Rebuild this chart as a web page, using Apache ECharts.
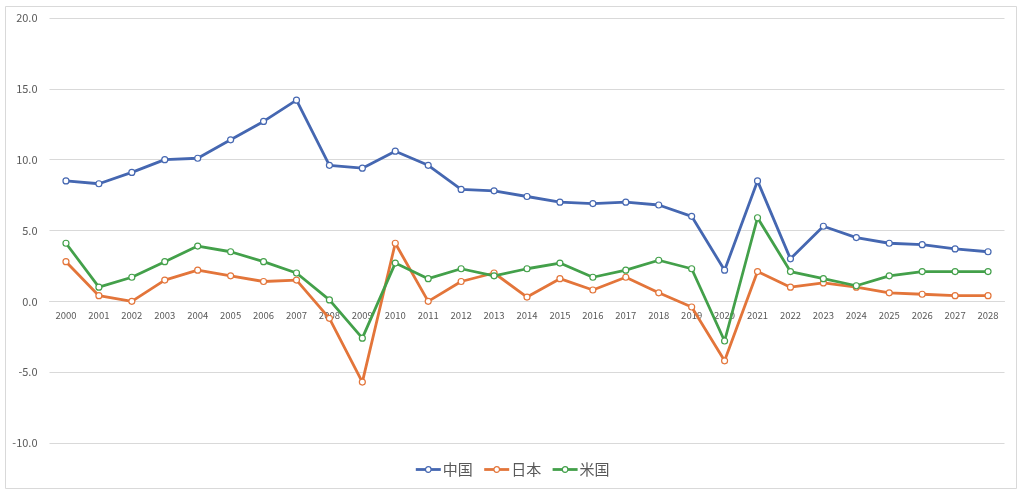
<!DOCTYPE html>
<html>
<head>
<meta charset="utf-8">
<script src="https://cdn.jsdelivr.net/npm/echarts@6/dist/echarts.min.js"></script>
<style>
html,body{margin:0;padding:0;background:#fff;}
#c{width:1024px;height:495px;}
</style>
</head>
<body>
<div id="c"></div>
<script>
var years = ['2000','2001','2002','2003','2004','2005','2006','2007','2008','2009','2010','2011','2012','2013','2014','2015','2016','2017','2018','2019','2020','2021','2022','2023','2024','2025','2026','2027','2028'];
var china = [8.5,8.3,9.1,10.0,10.1,11.4,12.7,14.2,9.6,9.4,10.6,9.6,7.9,7.8,7.4,7.0,6.9,7.0,6.8,6.0,2.2,8.5,3.0,5.3,4.5,4.1,4.0,3.7,3.5];
var japan = [2.8,0.4,0.0,1.5,2.2,1.8,1.4,1.5,-1.2,-5.7,4.1,0.0,1.4,2.0,0.3,1.6,0.8,1.7,0.6,-0.4,-4.2,2.1,1.0,1.3,1.0,0.6,0.5,0.4,0.4];
var usa = [4.1,1.0,1.7,2.8,3.9,3.5,2.8,2.0,0.1,-2.6,2.7,1.6,2.3,1.8,2.3,2.7,1.7,2.2,2.9,2.3,-2.8,5.9,2.1,1.6,1.1,1.8,2.1,2.1,2.1];
var seriesNames = ['中国','日本','米国'];
var colors = ['#4567b1','#e3753a','#43a04a'];
var yMin = -10, yMax = 20, yStep = 5;

var gridTop = 18, gridBottom = 52, H = 495;
var gridH = H - gridTop - gridBottom;
var zeroOffset = -gridH * (0 - yMin) / (yMax - yMin);

var chart = echarts.init(document.getElementById('c'));
function mk(name, data, color){
  return {
    name: name, type: 'line', data: data,
    symbol: 'circle', symbolSize: 6,
    lineStyle: {width: 2.8, color: color},
    itemStyle: {color: '#fff', borderColor: color, borderWidth: 1.2},
    emphasis: {disabled: true}
  };
}
chart.setOption({
  animation: false,
  textStyle: {fontFamily: 'Noto Sans CJK JP, Noto Sans, sans-serif'},
  graphic: [{
    type: 'rect', left: 5, top: 6, z: -1,
    shape: {width: 1011, height: 482},
    style: {fill: '#fff', stroke: '#d9d9d9', lineWidth: 1}
  }],
  grid: {left: 49.5, right: 19.5, top: gridTop, bottom: gridBottom},
  legend: {
    data: seriesNames.map(function(n,i){return {name:n, itemStyle:{color:'#fff', borderColor:colors[i], borderWidth:1.2}, lineStyle:{color:colors[i], width:2.8}};}),
    top: 457, left: 'center',
    itemWidth: 25, itemHeight: 7, itemGap: 10,
    textStyle: {fontSize: 15, color: '#595959', fontFamily: 'Noto Sans CJK JP', padding: [0, 0, 0, -3]}
  },
  xAxis: {
    type: 'category', data: years, boundaryGap: true,
    offset: zeroOffset,
    axisLine: {show: true, onZero: false, lineStyle: {color: '#d9d9d9', width: 1}},
    axisTick: {show: false},
    axisLabel: {fontSize: 9.5, color: '#595959', margin: 9, interval: 0}
  },
  yAxis: {
    type: 'value', min: yMin, max: yMax, interval: yStep,
    axisLine: {show: false}, axisTick: {show: false},
    splitLine: {lineStyle: {color: '#d9d9d9', width: 1}},
    axisLabel: {fontSize: 11, color: '#595959', margin: 12, formatter: function(v){return v.toFixed(1);}}
  },
  series: [mk(seriesNames[0], china, colors[0]), mk(seriesNames[1], japan, colors[1]), mk(seriesNames[2], usa, colors[2])]
});
</script>
</body>
</html>
